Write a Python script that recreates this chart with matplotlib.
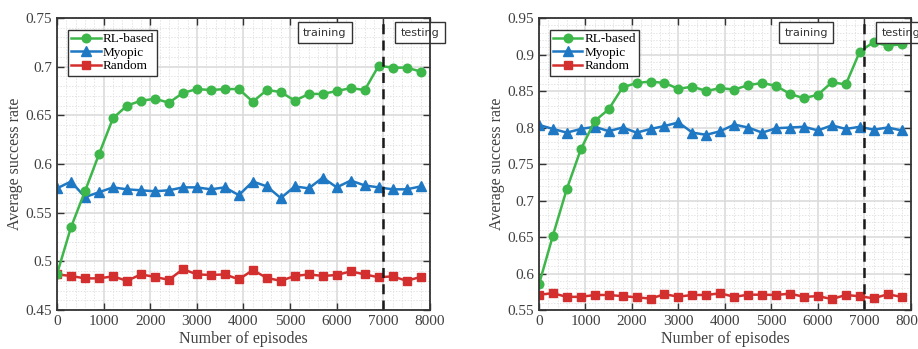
import numpy as np
import matplotlib.pyplot as plt
from matplotlib.ticker import MultipleLocator

# episodes sampled every 300
episodes = list(range(0, 8100, 300))

# left panel
rl_left = [0.487, 0.535, 0.572, 0.610, 0.647, 0.660, 0.665, 0.667, 0.663, 0.673,
           0.677, 0.676, 0.677, 0.677, 0.664, 0.676, 0.674, 0.665, 0.672, 0.672,
           0.675, 0.678, 0.676, 0.701, 0.699, 0.699, 0.695]
myopic_left = [0.575, 0.582, 0.566, 0.571, 0.576, 0.574, 0.573, 0.572, 0.573, 0.576,
               0.576, 0.574, 0.576, 0.568, 0.582, 0.577, 0.565, 0.577, 0.575, 0.586,
               0.576, 0.583, 0.578, 0.576, 0.574, 0.574, 0.577]
random_left = [0.4866, 0.485, 0.4825, 0.4825, 0.4846, 0.480, 0.4866, 0.484, 0.481, 0.492,
               0.4866, 0.486, 0.4866, 0.4815, 0.491, 0.483, 0.480, 0.485, 0.4866, 0.485,
               0.486, 0.4897, 0.4866, 0.4836, 0.4846, 0.480, 0.484]

# right panel
rl_right = [0.585, 0.652, 0.716, 0.770, 0.809, 0.825, 0.855, 0.861, 0.863, 0.861,
            0.853, 0.856, 0.850, 0.854, 0.852, 0.858, 0.861, 0.857, 0.846, 0.840,
            0.845, 0.862, 0.859, 0.904, 0.917, 0.912, 0.914]
myopic_right = [0.8036, 0.798, 0.793, 0.798, 0.801, 0.795, 0.800, 0.793, 0.798, 0.802,
                0.807, 0.793, 0.790, 0.795, 0.804, 0.800, 0.793, 0.799, 0.800, 0.801,
                0.796, 0.803, 0.798, 0.801, 0.797, 0.800, 0.796]
random_right = [0.571, 0.573, 0.568, 0.568, 0.5706, 0.5706, 0.569, 0.5674, 0.5656, 0.5716,
                0.5683, 0.5706, 0.5706, 0.573, 0.568, 0.571, 0.571, 0.5706, 0.5725, 0.568,
                0.569, 0.565, 0.5706, 0.5688, 0.566, 0.5716, 0.568]

plt.rcParams['font.family'] = ['Liberation Serif', 'DejaVu Serif']

green = '#3db64a'
blue = '#1f78c3'
red = '#d42f2f'

fig = plt.figure(figsize=(9.18, 3.49), dpi=100)
ax1 = fig.add_axes([0.0621, 0.1117, 0.4063, 0.8367])
ax2 = fig.add_axes([0.5871, 0.1117, 0.4052, 0.8367])


def draw(ax, rl, my, rd, ylim, ystep):
    ax.plot(episodes, rl, '-o', color=green, lw=1.8, ms=6.2, label='RL-based', zorder=5)
    ax.plot(episodes, my, '-^', color=blue, lw=1.8, ms=6.5, label='Myopic', zorder=4)
    ax.plot(episodes, rd, '-s', color=red, lw=1.8, ms=5.2, label='Random', zorder=4)
    ax.axvline(7000, color='#1a1a1a', ls=(0, (4, 2.5)), lw=1.8, zorder=6)

    ax.set_xlim(0, 8000)
    ax.set_ylim(*ylim)
    ax.xaxis.set_major_locator(MultipleLocator(1000))
    ax.xaxis.set_minor_locator(MultipleLocator(200))
    ax.yaxis.set_major_locator(MultipleLocator(ystep))
    ax.yaxis.set_minor_locator(MultipleLocator(ystep / 5))
    ax.yaxis.set_major_formatter(plt.FuncFormatter(lambda v, p: f'{v:g}'))
    ax.grid(True, which='major', color='#dcdcdc', lw=1.2, zorder=0)
    ax.grid(True, which='minor', color='#e4e4e4', lw=0.7, ls=(0, (1.5, 1.5)), zorder=0)
    ax.set_axisbelow(True)
    ax.tick_params(which='both', direction='in', top=True, right=True,
                   colors='#333333', labelcolor='#404040', labelsize=11)
    ax.tick_params(which='major', length=5, width=1)
    ax.tick_params(which='minor', length=0)
    for s in ax.spines.values():
        s.set_color('#333333')
        s.set_linewidth(1.3)
        s.set_zorder(10)
    ax.set_xlabel('Number of episodes', fontsize=11.5, color='#404040', labelpad=2)
    ax.set_ylabel('Average success rate', fontsize=11.5, color='#404040', labelpad=2)

    leg = ax.legend(loc='upper left', bbox_to_anchor=(0.03, 0.96), borderaxespad=0,
                    fontsize=9.5, handlelength=2.2, handletextpad=0.15, borderpad=0.25,
                    labelspacing=0.1, fancybox=False, framealpha=1)
    leg.get_frame().set_edgecolor('#333333')
    leg.get_frame().set_linewidth(1)
    leg.set_zorder(8)

    box = dict(boxstyle='square,pad=0.5', fc='white', ec='#333333', lw=1)
    ax.text(0.718, 0.95, 'training', transform=ax.transAxes, ha='center', va='center',
            family='DejaVu Sans', fontsize=8, color='#333333', bbox=box, zorder=7)
    ax.text(0.974, 0.95, 'testing', transform=ax.transAxes, ha='center', va='center',
            family='DejaVu Sans', fontsize=8, color='#333333', bbox=box, zorder=7,
            clip_on=False)


draw(ax1, rl_left, myopic_left, random_left, (0.45, 0.75), 0.05)
draw(ax2, rl_right, myopic_right, random_right, (0.55, 0.95), 0.05)

fig.savefig('out.png', dpi=100)
